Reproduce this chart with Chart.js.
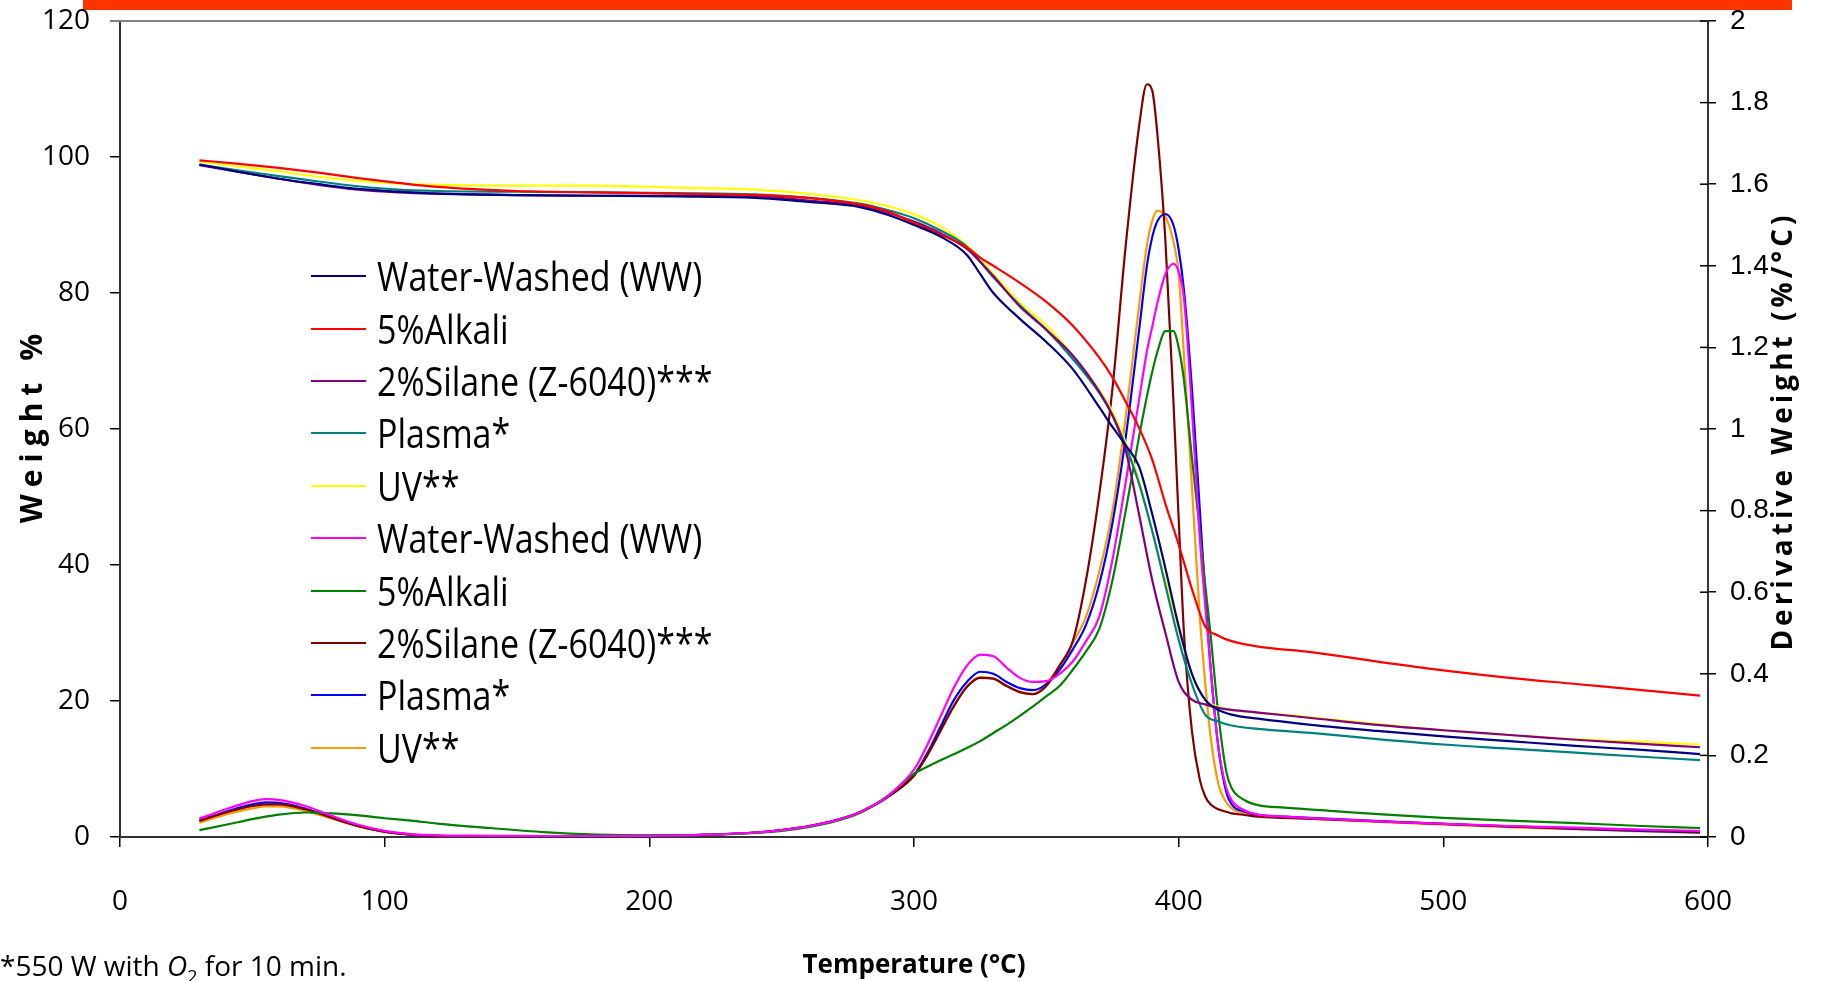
<!DOCTYPE html>
<html>
<head>
<meta charset="utf-8">
<title>TGA / DTG curves</title>
<script src="https://cdn.jsdelivr.net/npm/chart.js@4.4.1/dist/chart.umd.min.js"></script>
<style>
  html, body { margin:0; padding:0; background:#fff; }
  body { width:1833px; height:981px; position:relative; overflow:hidden; font-family:"Open Sans", sans-serif; }
  #topBar { position:absolute; left:83px; top:0; width:1709px; height:10px; background:#ff3300; }
  #chart { position:absolute; left:0; top:0; }
  #legend { position:absolute; left:311px; top:250px; }
  .legend-item { display:flex; align-items:center; height:52.4px; }
  .legend-line { width:55px; height:2px; margin-right:11px; }
  .legend-label { display:inline-block; font-size:34px; color:#000; white-space:nowrap; transform:scaleY(1.18); transform-origin:left center; }
  #footnote { position:absolute; left:0; top:948px; font-size:28px; line-height:34px; color:#000; }
  #footnote sub { font-size:18px; line-height:0; }
</style>
</head>
<body>
<div id="topBar"></div>
<canvas id="chart" width="1833" height="981"></canvas>
<div id="legend"></div>
<div id="footnote">*550 W with <i>O</i><sub>2</sub> for 10 min.</div>
<script>
const NAMES = ['Water-Washed (WW)','5%Alkali','2%Silane (Z-6040)***','Plasma*','UV**'];
const WEIGHT_COLORS = ['#000080','#ff0000','#800080','#008080','#ffff00'];
const DERIV_COLORS  = ['#ff00ff','#008000','#800000','#0000ff','#ff9900'];

// weight % (left axis)
const tempW = [30,45,60,75,90,105,120,150,180,210,240,260,280,290,300,310,320,325,330,340,
               350,360,370,375,380,385,390,395,400,405,410,415,420,430,450,475,500,525,550,575,597];
const wWW  = [98.9,97.8,96.8,96.0,95.3,94.9,94.6,94.4,94.3,94.2,94.0,93.4,92.6,91.5,90.0,88.3,85.6,82.8,80.0,76.2,
              72.8,68.8,63.2,60.3,57.6,54.5,47.5,39.5,31.0,24.0,20.2,18.7,18.0,17.4,16.5,15.6,14.8,14.1,13.4,12.8,12.2];
const wAlk = [99.5,99.0,98.4,97.7,96.9,96.2,95.6,95.0,94.8,94.6,94.4,94.0,93.0,92.0,90.3,88.6,86.7,85.2,84.0,81.5,
              78.7,75.2,70.5,67.6,64.0,60.2,55.5,49.0,43.0,36.5,31.0,29.6,28.8,28.0,27.2,25.8,24.5,23.4,22.5,21.6,20.8];
const wSil = [98.8,97.8,96.8,95.9,95.2,94.8,94.6,94.4,94.3,94.3,94.2,93.6,92.8,91.8,90.5,88.8,86.5,84.6,82.5,78.0,
              74.6,70.8,65.5,62.0,56.8,47.5,37.8,30.0,22.8,20.2,19.5,19.0,18.7,18.3,17.5,16.5,15.7,15.0,14.3,13.7,13.2];
const wPla = [98.9,98.0,97.2,96.4,95.7,95.2,95.0,94.9,94.8,94.7,94.5,94.0,93.1,92.2,91.0,89.2,86.8,84.6,82.3,78.2,
              74.6,70.3,65.3,62.0,57.5,52.0,45.0,37.0,29.0,22.5,18.0,17.0,16.4,15.9,15.3,14.4,13.6,13.0,12.4,11.8,11.3];
const wUV  = [99.3,98.6,97.9,97.1,96.5,96.1,95.9,95.8,95.8,95.5,95.2,94.6,93.6,92.8,91.6,89.8,87.0,85.0,82.8,78.6,
              75.2,70.8,65.7,62.5,58.0,52.5,45.0,37.8,30.5,24.0,20.2,19.1,18.7,18.3,17.6,16.6,15.7,15.0,14.4,14.0,13.6];

// derivative weight %/°C (right axis)
const tempD = [30,40,50,55,60,70,80,90,100,110,120,140,160,180,200,220,240,250,260,270,
               280,290,300,305,310,315,320,325,330,335,340,345,350,355,360,365,370,375,380,385,
               388,390,392,395,398,400,402,405,408,410,412,415,418,420,425,430,440,460,480,500,
               525,550,575,597];
const dWW  = [.045,.068,.088,.093,.091,.076,.052,.030,.015,.007,.004,.003,.002,.002,.003,.005,.011,.017,.026,.040,
              .062,.100,.165,.225,.295,.365,.420,.447,.443,.415,.390,.380,.382,.400,.430,.480,.540,.680,.870,1.07,
              1.19,1.25,1.31,1.38,1.405,1.385,1.32,1.05,.730,.570,.420,.220,.120,.090,.065,.055,.050,.043,.037,.032,
              .027,.023,.018,.015];
const dAlk = [.017,.030,.044,.050,.055,.060,.058,.053,.046,.040,.033,.022,.012,.006,.004,.005,.010,.015,.024,.038,
              .060,.100,.155,.172,.188,.203,.218,.235,.255,.275,.297,.320,.345,.370,.410,.455,.510,.630,.800,.980,
              1.08,1.14,1.19,1.24,1.24,1.20,1.12,.930,.750,.620,.500,.300,.160,.120,.090,.078,.072,.063,.054,.047,
              .040,.034,.027,.022];
const dSil = [.040,.060,.076,.080,.080,.068,.047,.027,.013,.006,.003,.002,.002,.002,.003,.005,.011,.017,.026,.040,
              .062,.098,.150,.200,.260,.320,.368,.390,.388,.370,.355,.350,.370,.420,.480,.630,.840,1.10,1.45,1.74,
              1.845,1.83,1.72,1.46,1.07,.780,.500,.260,.140,.100,.080,.068,.062,.058,.054,.050,.047,.042,.037,.032,
              .026,.021,.017,.013];
const dPla = [.040,.062,.080,.085,.084,.070,.048,.027,.013,.006,.003,.002,.002,.002,.003,.005,.011,.017,.026,.040,
              .062,.098,.152,.205,.270,.335,.380,.405,.400,.380,.365,.360,.375,.410,.460,.520,.620,.770,.980,1.24,
              1.40,1.47,1.51,1.527,1.50,1.44,1.34,1.10,.800,.600,.420,.220,.110,.080,.062,.054,.050,.044,.038,.032,
              .026,.020,.015,.011];
const dUV  = [.035,.055,.070,.075,.075,.064,.045,.026,.012,.006,.003,.002,.002,.002,.003,.005,.011,.017,.026,.040,
              .062,.098,.150,.200,.260,.320,.368,.392,.388,.370,.355,.350,.375,.420,.475,.540,.650,.800,1.03,1.30,
              1.45,1.51,1.535,1.52,1.46,1.38,1.18,.860,.540,.380,.250,.130,.085,.070,.058,.052,.048,.042,.036,.030,
              .024,.019,.014,.010];

const weightSeries = [wWW, wAlk, wSil, wPla, wUV];
const derivSeries  = [dWW, dAlk, dSil, dPla, dUV];

const pts = (xs, ys) => xs.map((x, i) => ({ x, y: ys[i] }));

const datasets = [
  ...weightSeries.map((s, i) => ({ label: NAMES[i], data: pts(tempW, s), borderColor: WEIGHT_COLORS[i], yAxisID: 'y' })),
  ...derivSeries.map((s, i)  => ({ label: NAMES[i], data: pts(tempD, s), borderColor: DERIV_COLORS[i],  yAxisID: 'y1' }))
];

const TICK_FONT = { family: '"Open Sans", sans-serif', size: 28 };

// fixed axis boxes; drop the label overhang so the plot area keeps its size
const fixBox = (w, h) => s => {
  if (w) s.width = w;
  if (h) s.height = h;
  s.paddingTop = 0; s.paddingBottom = 0; s.paddingLeft = 0; s.paddingRight = 0;
};

// top frame line, inner half of the right ticks, rotated y titles
const axisDecor = {
  id: 'axisDecor',
  afterDraw(chart) {
    const { ctx, chartArea: a, scales } = chart;
    ctx.save();
    ctx.strokeStyle = '#808080'; ctx.lineWidth = 2;
    ctx.beginPath(); ctx.moveTo(a.left - 10, a.top); ctx.lineTo(a.right, a.top); ctx.stroke();

    ctx.strokeStyle = '#000'; ctx.lineWidth = 1.5;
    scales.y1.ticks.forEach(t => {
      const y = scales.y1.getPixelForValue(t.value);
      ctx.beginPath(); ctx.moveTo(a.right - 8, y); ctx.lineTo(a.right, y); ctx.stroke();
    });

    ctx.fillStyle = '#000';
    ctx.textAlign = 'center'; ctx.textBaseline = 'middle';
    const midY = (a.top + a.bottom) / 2;

    ctx.save();
    ctx.font = 'bold 30px "Open Sans"';
    ctx.letterSpacing = '7px';
    ctx.translate(33, midY - 4);
    ctx.rotate(-Math.PI / 2);
    ctx.fillText('Weight %', 0, 0);
    ctx.restore();

    ctx.save();
    ctx.font = 'bold 28px "Open Sans"';
    ctx.letterSpacing = '4px';
    ctx.translate(1784, midY + 2);
    ctx.rotate(-Math.PI / 2);
    ctx.fillText('Derivative Weight (%/°C)', 0, 0);
    ctx.restore();

    ctx.restore();
  }
};

new Chart(document.getElementById('chart').getContext('2d'), {
  type: 'line',
  data: { datasets },
  options: {
    responsive: false,
    animation: false,
    devicePixelRatio: 1,
    layout: { padding: { top: 21, left: 0, right: 0, bottom: 0 } },
    elements: {
      point: { radius: 0 },
      line: { borderWidth: 2.2, cubicInterpolationMode: 'monotone', fill: false }
    },
    plugins: { legend: { display: false }, tooltip: { enabled: false } },
    scales: {
      x: {
        type: 'linear', min: 0, max: 600,
        afterFit: fixBox(0, 144),
        ticks: { stepSize: 100, font: TICK_FONT, color: '#000', padding: 38, maxRotation: 0 },
        grid: { drawOnChartArea: false, tickLength: 10, color: '#000', lineWidth: 1.5 },
        border: { color: '#333', width: 2 },
        title: { display: true, text: 'Temperature (°C)', color: '#000',
                 font: { family: '"Open Sans", sans-serif', size: 26, weight: 'bold' }, padding: { top: 0, bottom: 0 } }
      },
      y: {
        position: 'left', min: 0, max: 120,
        afterFit: fixBox(120, 0),
        ticks: { stepSize: 20, font: TICK_FONT, color: '#000', padding: 20 },
        grid: { drawOnChartArea: false, tickLength: 10, color: '#000', lineWidth: 1.5 },
        border: { color: '#333', width: 2 }
      },
      y1: {
        position: 'right', min: 0, max: 2,
        afterFit: fixBox(125, 0),
        ticks: { stepSize: 0.2, font: { family: '"Liberation Sans", Arial, sans-serif', size: 28 }, color: '#000', padding: 14,
                 callback: v => String(+v.toFixed(1)) },
        grid: { drawOnChartArea: false, tickLength: 8, color: '#000', lineWidth: 1.5 },
        border: { color: '#333', width: 2 }
      }
    }
  },
  plugins: [axisDecor]
});

// legend: weight series first, then derivative series
const legendEl = document.getElementById('legend');
datasets.forEach(ds => {
  const item = document.createElement('div');
  item.className = 'legend-item';
  item.innerHTML = `<span class="legend-line" style="background:${ds.borderColor}"></span><span class="legend-label">${ds.label}</span>`;
  legendEl.appendChild(item);
});
</script>
</body>
</html>
